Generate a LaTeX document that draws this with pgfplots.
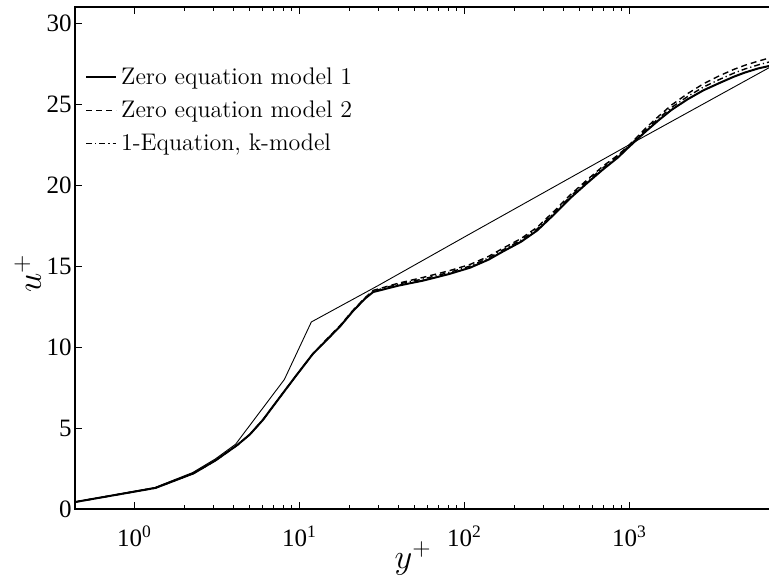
\documentclass[border=0pt]{standalone}
\usepackage{fontspec}
\usepackage{pgfplots}
\pgfplotsset{compat=1.18}
\newfontfamily\timesfont{Liberation Serif}
\begin{document}
\begin{tikzpicture}
\useasboundingbox (0,0) rectangle (384.5pt,289pt);
\begin{axis}[
  at={(37.5pt,34.5pt)}, anchor=south west,
  scale only axis, width=348.5pt, height=251pt,
  xmode=log, xmin=0.436, xmax=7310,
  ymin=0, ymax=31,
  axis line style={line width=0.8pt},
  tick style={line width=0.5pt, black},
  tick align=inside,
  major tick length=3.5pt, minor tick length=2pt,
  xtick={1,10,100,1000},
  xticklabel={\pgfmathparse{int(round(\tick/2.302585))}10\textsuperscript{\pgfmathresult}},
  ytick={0,5,10,15,20,25,30},
  yticklabels={0,5,10,15,20,25,30},
  ytick pos=left,
  xtick pos=both,
  x tick label style={font=\timesfont\fontsize{12.5}{15}\selectfont, anchor=base, yshift=-18.5pt},
  y tick label style={font=\timesfont\fontsize{12.5}{15}\selectfont, inner sep=1.5pt},
  xlabel={$y^+$}, ylabel={$u^+$},
  label style={font=\fontsize{17}{20}\selectfont},
  xlabel style={at={(axis description cs:0.485,-0.098)}, anchor=center},
  ylabel style={at={(axis description cs:-0.068,0.47)}, anchor=center, rotate=0},
  legend style={at={(axis description cs:0.014,0.888)}, anchor=north west, draw=none, fill=none,
    font=\fontsize{12}{14}\selectfont, row sep=2.7pt, inner sep=0pt},
  legend cell align=left,
  legend image code/.code={\draw[#1] (0pt,0pt) -- (15pt,0pt);},
]
% reference profile (thin)
\addplot[black, line width=0.45pt, forget plot] coordinates {
(0.436,0.436) (1.33,1.33) (2.25,2.25) (3.1,3.1) (4.1,4.0) (8.1,8.0) (11.8,11.55)
(30,13.8) (100,16.8) (1000,22.5) (7310,27.35)
};
% Zero equation model 1
\addplot[black, line width=1pt] coordinates {
(0.436,0.43) (1.34,1.3) (2.28,2.2) (3.1,3.0) (4.2,3.95) (5,4.6) (6,5.5) (7.6,6.9)
(9.65,8.3) (12.1,9.6) (14.5,10.4) (17.7,11.3) (21,12.2) (25,13.0) (28,13.4)
(40,13.8) (56,14.1) (80,14.5) (108,14.9) (140,15.4) (171,15.9) (220,16.5)
(276,17.2) (350,18.2) (438,19.2) (550,20.1) (697,21.0) (850,21.7) (979,22.3)
(1250,23.3) (1500,24.0) (1800,24.65) (2250,25.3) (2800,25.85) (3500,26.3)
(4300,26.7) (5000,26.95) (6000,27.2) (7310,27.4)
};
\addlegendentry{Zero equation model 1}
% Zero equation model 2
\addplot[black, line width=0.7pt, dash pattern=on 3pt off 2pt] coordinates {
(0.436,0.43) (1.34,1.3) (2.28,2.2) (3.1,3.0) (4.2,3.95) (5,4.6) (6,5.5) (7.6,6.9)
(9.65,8.3) (12.1,9.6) (14.5,10.45) (17.7,11.35) (21,12.25) (25,13.05) (28,13.5)
(40,13.95) (56,14.3) (80,14.7) (108,15.1) (140,15.6) (171,16.1) (220,16.7)
(276,17.4) (350,18.4) (438,19.4) (550,20.3) (697,21.2) (850,21.85) (979,22.4)
(1250,23.5) (1500,24.25) (1800,24.95) (2250,25.65) (2800,26.25) (3500,26.75)
(4300,27.15) (5000,27.4) (6000,27.65) (7310,27.9)
};
\addlegendentry{Zero equation model 2}
% 1-Equation k-model
\addplot[black, line width=0.7pt, dash pattern=on 3pt off 1.5pt on 0.6pt off 1.5pt] coordinates {
(0.436,0.43) (1.34,1.3) (2.28,2.2) (3.1,3.0) (4.2,3.95) (5,4.6) (6,5.5) (7.6,6.9)
(9.65,8.3) (12.1,9.6) (14.5,10.4) (17.7,11.3) (21,12.2) (25,13.0) (28,13.45)
(40,13.9) (56,14.2) (80,14.6) (108,15.0) (140,15.5) (171,16.0) (220,16.6)
(276,17.3) (350,18.3) (438,19.3) (550,20.2) (697,21.1) (850,21.8) (979,22.35)
(1250,23.4) (1500,24.12) (1800,24.8) (2250,25.47) (2800,26.05) (3500,26.52)
(4300,26.92) (5000,27.17) (6000,27.42) (7310,27.65)
};
\addlegendentry{1-Equation, k-model}
\end{axis}
\end{tikzpicture}
\end{document}
